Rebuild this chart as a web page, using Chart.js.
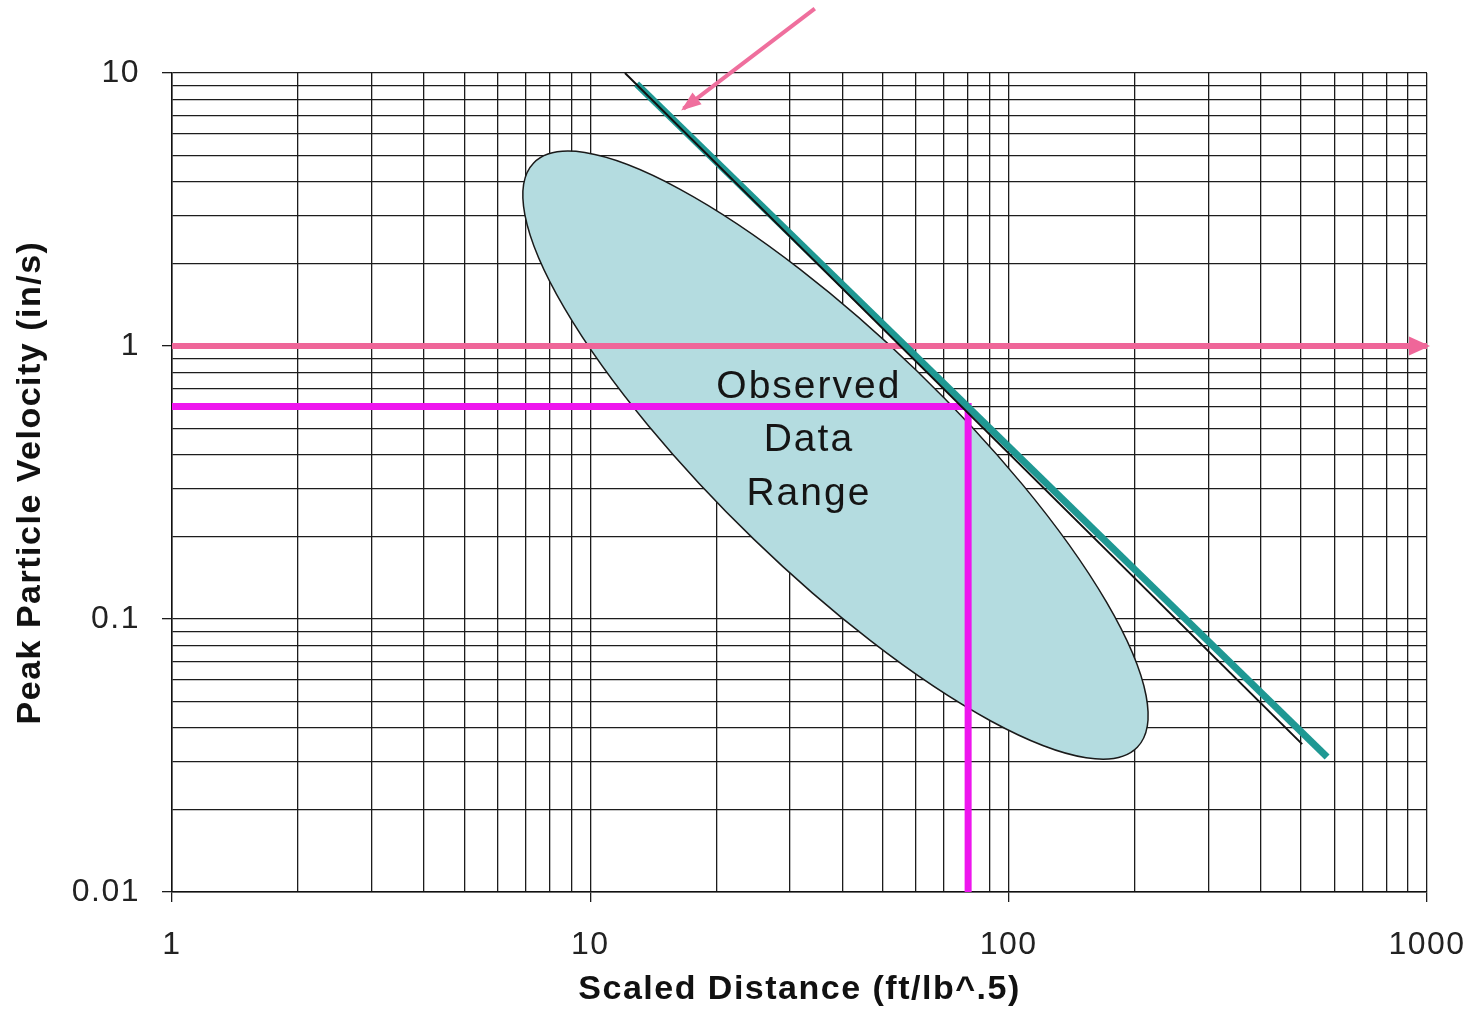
<!DOCTYPE html>
<html>
<head>
<meta charset="utf-8">
<script src="https://cdn.jsdelivr.net/npm/chart.js@4/dist/chart.umd.min.js"></script>
<style>
  html, body { margin: 0; padding: 0; background: #fff; }
  canvas { display: block; }
</style>
</head>
<body>
<canvas id="ppvChart" width="1476" height="1030"></canvas>
<script>
// grid positions and labelled ticks
const xTicks = [1, 2, 3, 4, 5, 6, 7, 8, 9, 10, 20, 30, 40, 50, 60, 70, 80, 90,
    100, 200, 300, 400, 500, 600, 700, 800, 900, 1000];
const yTicks = [0.01, 0.02, 0.03, 0.04, 0.05, 0.06, 0.07, 0.08, 0.09,
    0.1, 0.2, 0.3, 0.4, 0.5, 0.6, 0.7, 0.8, 0.9,
    1, 2, 3, 4, 5, 6, 7, 8, 9, 10];
const xLabels = [1, 10, 100, 1000];
const yLabels = [0.01, 0.1, 1, 10];

// lines
const blackLineX = [12.1, 503];
const blackLineY = [10, 0.0348];
const tealLineX = [12.9, 577];
const tealLineY = [9.12, 0.0312];
const limitLineX = [1, 1000];
const limitLineY = [1, 1];
const designLineX = [1, 80, 80];
const designLineY = [0.6, 0.6, 0.01];
const pointerX = [34.4, 16.7];
const pointerY = [17.2, 7.4];

// observed data range ellipse: ends of the long axis, short/long ratio
const ellipseTipsX = [7.32, 203];
const ellipseTipsY = [4.68, 0.0339];
const ellipseRatio = 0.279;
const rangeText = ["Observed", "Data", "Range"];
const rangeTextAt = [33.3, 0.412];

const FONT = "'Liberation Sans', Arial, sans-serif";

function pts(xs, ys) {
    return xs.map((x, i) => ({ x: x, y: ys[i] }));
}

const spacingPlugin = {
    id: "spacing",
    beforeDraw(chart) {
        chart.ctx.letterSpacing = "1.5px";
    },
};

const ellipsePlugin = {
    id: "ellipse",
    beforeDatasetsDraw(chart) {
        const { ctx, scales } = chart;
        const x1 = scales.x.getPixelForValue(ellipseTipsX[0]);
        const y1 = scales.y.getPixelForValue(ellipseTipsY[0]);
        const x2 = scales.x.getPixelForValue(ellipseTipsX[1]);
        const y2 = scales.y.getPixelForValue(ellipseTipsY[1]);
        const a = Math.hypot(x2 - x1, y2 - y1) / 2;
        const ang = Math.atan2(y2 - y1, x2 - x1);
        ctx.save();
        ctx.beginPath();
        ctx.ellipse((x1 + x2) / 2, (y1 + y2) / 2, a, a * ellipseRatio, ang, 0, Math.PI * 2);
        ctx.fillStyle = "#b4dce0";
        ctx.fill();
        ctx.lineWidth = 1.5;
        ctx.strokeStyle = "#1a1a1a";
        ctx.stroke();
        ctx.restore();
    },
    afterDatasetsDraw(chart) {
        const { ctx, scales } = chart;
        // arrow heads
        chart.data.datasets.forEach((ds, i) => {
            if (!ds.arrowHead) return;
            const els = chart.getDatasetMeta(i).data;
            const p1 = els[els.length - 2];
            const p2 = els[els.length - 1];
            const ang = Math.atan2(p2.y - p1.y, p2.x - p1.x);
            const { length, width, overshoot } = ds.arrowHead;
            const cx = Math.cos(ang), cy = Math.sin(ang);
            const tx = p2.x + cx * overshoot, ty = p2.y + cy * overshoot;
            const bx = tx - cx * length, by = ty - cy * length;
            ctx.save();
            ctx.beginPath();
            ctx.moveTo(tx, ty);
            ctx.lineTo(bx - cy * width / 2, by + cx * width / 2);
            ctx.lineTo(bx + cy * width / 2, by - cx * width / 2);
            ctx.closePath();
            ctx.fillStyle = ds.borderColor;
            ctx.fill();
            ctx.restore();
        });
        // text inside the ellipse
        const px = scales.x.getPixelForValue(rangeTextAt[0]);
        const py = scales.y.getPixelForValue(rangeTextAt[1]);
        ctx.save();
        ctx.font = "39px " + FONT;
        ctx.fillStyle = "#151515";
        ctx.textAlign = "center";
        ctx.textBaseline = "alphabetic";
        ctx.letterSpacing = "2px";
        rangeText.forEach((t, i) => {
            ctx.fillText(t, px, py + (i - 1) * 53.5);
        });
        ctx.restore();
    },
};

const gridColor = "#1c1c1c";

new Chart(document.getElementById("ppvChart"), {
    type: "scatter",
    data: {
        datasets: [
            {
                data: pts(blackLineX, blackLineY),
                borderColor: "#111",
                borderWidth: 2,
            },
            {
                data: pts(tealLineX, tealLineY),
                borderColor: "#1f9893",
                borderWidth: 7,
            },
            {
                data: pts(limitLineX, limitLineY),
                borderColor: "#ef6699",
                borderWidth: 6,
                arrowHead: { length: 21, width: 19, overshoot: 3 },
            },
            {
                data: pts(designLineX, designLineY),
                borderColor: "#ee16ee",
                borderWidth: 7,
                borderJoinStyle: "miter",
            },
            {
                data: pts(pointerX, pointerY),
                borderColor: "#ef6f9d",
                borderWidth: 4,
                clip: false,
                arrowHead: { length: 20, width: 15, overshoot: 3 },
            },
        ],
    },
    options: {
        responsive: false,
        animation: false,
        showLine: true,
        elements: {
            point: { radius: 0, hoverRadius: 0 },
            line: { borderCapStyle: "butt" },
        },
        layout: { padding: { top: 73, right: 49, left: 0, bottom: 0 } },
        plugins: {
            legend: { display: false },
            tooltip: { enabled: false },
        },
        scales: {
            x: {
                type: "logarithmic",
                min: 1,
                max: 1000,
                afterBuildTicks: (scale) => {
                    scale.ticks = xTicks.map((v) => ({ value: v }));
                },
                afterFit: (scale) => {
                    scale.height = 138;
                    scale.paddingLeft = 0;
                    scale.paddingRight = 0;
                },
                ticks: {
                    autoSkip: false,
                    maxRotation: 0,
                    padding: 24,
                    color: "#222",
                    font: { family: FONT, size: 32 },
                    callback: (v) => (xLabels.includes(v) ? String(v) : ""),
                },
                grid: {
                    color: gridColor,
                    lineWidth: 1.3,
                    tickLength: 10,
                    tickColor: (c) => (c.tick && xLabels.includes(c.tick.value) ? gridColor : "rgba(0,0,0,0)"),
                },
                border: { color: "#111", width: 1.5 },
                title: {
                    display: true,
                    text: "Scaled Distance (ft/lb^.5)",
                    color: "#111",
                    font: { family: FONT, size: 34, weight: "bold" },
                    padding: { top: 0, bottom: 20 },
                },
            },
            y: {
                type: "logarithmic",
                min: 0.01,
                max: 10,
                afterBuildTicks: (scale) => {
                    scale.ticks = yTicks.map((v) => ({ value: v }));
                },
                afterFit: (scale) => {
                    scale.width = 172;
                    scale.paddingTop = 0;
                    scale.paddingBottom = 0;
                },
                ticks: {
                    autoSkip: false,
                    padding: 22,
                    color: "#222",
                    font: { family: FONT, size: 32 },
                    callback: (v) => (yLabels.includes(v) ? String(v) : ""),
                },
                grid: {
                    color: gridColor,
                    lineWidth: 1.3,
                    tickLength: 10,
                    tickColor: (c) => (c.tick && yLabels.includes(c.tick.value) ? gridColor : "rgba(0,0,0,0)"),
                },
                border: { color: "#111", width: 1.5 },
                title: {
                    display: true,
                    text: "Peak Particle Velocity (in/s)",
                    color: "#111",
                    font: { family: FONT, size: 34, weight: "bold" },
                    padding: { top: 10, bottom: 0 },
                },
            },
        },
    },
    plugins: [spacingPlugin, ellipsePlugin],
});
</script>
</body>
</html>
